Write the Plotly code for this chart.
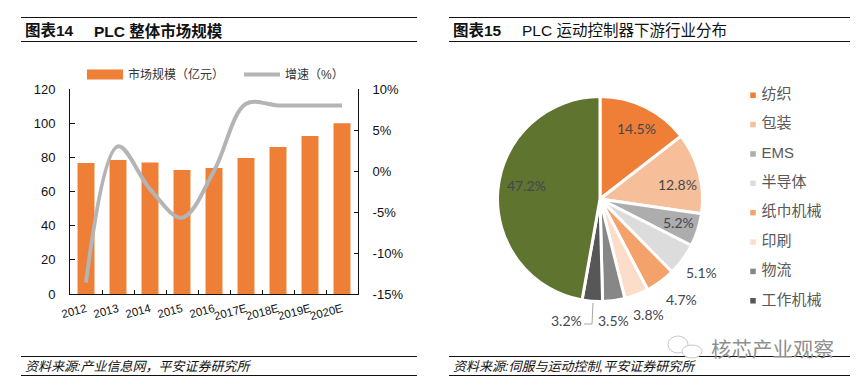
import plotly.graph_objects as go

W, H = 862, 387
CJK = "Liberation Sans, Noto Sans CJK SC, sans-serif"
PIE_FONT = "Lato, Noto Sans CJK SC, sans-serif"

# Bar + line chart data
years = ["2012", "2013", "2014", "2015", "2016", "2017E", "2018E", "2019E", "2020E"]
market_size = [76.7, 78.5, 77, 72.6, 73.8, 79.6, 86, 92.5, 100]
growth = [-13.6, 3.0, -2.2, -5.7, 0.0, 8.2, 8.0, 8.0, 8.0]
growth_ticks = [-15, -10, -5, 0, 5, 10]
growth_labels = ["-15%", "-10%", "-5%", "0%", "5%", "10%"]

# Pie chart data
industries = ["纺织", "包装", "EMS", "半导体", "纸巾机械", "印刷", "物流", "工作机械", "其他"]
shares = [14.5, 12.8, 5.2, 5.1, 4.7, 3.8, 3.5, 3.2, 47.2]
pie_colors = ["#EF7E37", "#F7BF99", "#ADADAD", "#DCDCDC", "#F4A26C", "#FBDDC9", "#878787", "#575757", "#5F742F"]
label_xy = [(636, 128), (677, 184), (678, 222), (701, 272), (681, 299), (648, 314), (613, 320), (566, 320), (526, 185)]

ORANGE = "#EF7E37"
GREY = "#B4B4B4"


def px(x):
    return x / W


def py(y):
    return 1 - y / H


fig = go.Figure()
fig.add_trace(go.Bar(x=years, y=market_size, marker=dict(color=ORANGE, line_width=0), width=0.53,
                     showlegend=False, yaxis="y", xaxis="x"))
fig.add_trace(go.Scatter(x=[None], y=[None], mode="lines", name="市场规模（亿元）",
                         line=dict(color=ORANGE, width=11), legend="legend", xaxis="x", yaxis="y"))
fig.add_trace(go.Scatter(x=years, y=growth, mode="lines", name="增速（%）",
                         line=dict(color=GREY, width=4, shape="spline", smoothing=1.0),
                         xaxis="x", yaxis="y2", legend="legend"))

fig.add_trace(go.Pie(labels=industries, values=shares, sort=False, direction="clockwise", rotation=0,
                     marker=dict(colors=pie_colors, line=dict(color="white", width=3)),
                     textinfo="none", showlegend=False, automargin=False, hoverinfo="label+percent",
                     domain=dict(x=[px(497.5), px(702.5)], y=[py(301.5), py(96.5)])))

# Pie key, drawn as a small scatter on its own hidden axes
fig.add_trace(go.Scatter(x=[0] * 8, y=industries[:8], mode="markers+text", xaxis="x2", yaxis="y3", showlegend=False,
                         text=["\u00a0" + name for name in industries[:8]], textposition="middle right", cliponaxis=False,
                         textfont=dict(family=CJK, size=15, color="#595959"),
                         marker=dict(symbol="square", size=5.5, color=pie_colors[:8])))

fig.update_layout(
    template="none",
    width=W, height=H, margin=dict(l=0, r=0, t=0, b=0), paper_bgcolor="white", plot_bgcolor="white",
    font=dict(family=CJK, color="#111111"),
    xaxis=dict(domain=[px(70), px(358)], type="category", ticks="inside", ticklen=4, tickwidth=1, tickcolor="#111",
               tickson="boundaries", showline=True, linecolor="#111", linewidth=1, tickangle=-15,
               tickfont=dict(size=11.5), showgrid=False, anchor="y", ticklabelstandoff=3),
    yaxis=dict(domain=[py(294), py(89)], range=[0, 120], dtick=20, ticks="inside", ticklen=5, tickcolor="#111",
               showline=True, linecolor="#111", linewidth=1, showgrid=False, zeroline=False,
               tickfont=dict(size=13), anchor="x", ticklabelstandoff=11),
    yaxis2=dict(domain=[py(294), py(89)], range=[-15, 10], tickmode="array", tickvals=growth_ticks, ticktext=growth_labels,
                overlaying="y", side="right", ticks="inside", ticklen=4,
                tickcolor="#111", showline=True, linecolor="#111", linewidth=1, showgrid=False, zeroline=False,
                tickfont=dict(size=13), anchor="x", ticklabelstandoff=11),
    xaxis2=dict(domain=[px(753), px(860)], range=[0, 1], visible=False, anchor="y3"),
    yaxis3=dict(domain=[py(316), py(80)], type="category", autorange="reversed", visible=False, anchor="x2"),
    legend=dict(orientation="h", x=px(82), y=py(60), xanchor="left", yanchor="top", font=dict(size=12, color="#333"),
                itemwidth=36, entrywidth=106, entrywidthmode="pixels", bgcolor="rgba(0,0,0,0)"),
)

# Panel rules
rules = [(21, 417, 17.5), (21, 417, 41.5), (21, 417, 356.5), (21, 417, 375.5),
         (449, 850, 17.5), (449, 850, 41.5), (449, 850, 356.5), (449, 850, 375.5)]
shapes = [dict(type="line", xref="paper", yref="paper", x0=px(a), x1=px(b), y0=py(c), y1=py(c),
               line=dict(color="#111", width=1)) for a, b, c in rules]
# Leader line for the 3.2% label
shapes.append(dict(type="path", xref="paper", yref="paper",
                   path=f"M{px(593)},{py(303)} L{px(592)},{py(324)} L{px(584)},{py(324)}",
                   line=dict(color="#A6A6A6", width=1)))
# Watermark icon
for x0, y0, x1, y1 in [(668, 336, 688, 353), (682, 345, 702, 358)]:
    shapes.append(dict(type="circle", xref="paper", yref="paper", x0=px(x0), x1=px(x1), y0=py(y0), y1=py(y1),
                       line=dict(color="#C8C8C8", width=1), fillcolor="white"))
fig.update_layout(shapes=shapes)

texts = [
    (23, 31, "<b>图表14</b>", 15.5, "#111", "normal"),
    (92, 31, "<b>PLC 整体市场规模</b>", 15.5, "#111", "normal"),
    (451, 31, "<b>图表15</b>", 15.5, "#111", "normal"),
    (520, 31, "PLC 运动控制器下游行业分布", 15.5, "#111", "normal"),
    (23, 366, "资料来源:产业信息网，平安证券研究所", 13, "#111", "italic"),
    (451, 366, "资料来源:伺服与运动控制,平安证券研究所", 13, "#111", "italic"),
    (709, 349, "核芯产业观察", 20.5, "#8F8F8F", "normal"),
]
ann = [dict(x=px(x), y=py(y), xref="paper", yref="paper", text=t, showarrow=False, xanchor="left", yanchor="middle",
            font=dict(size=s, color=c, style=st, family=CJK)) for x, y, t, s, c, st in texts]
for (x, y), v in zip(label_xy, shares):
    ann.append(dict(x=px(x), y=py(y), xref="paper", yref="paper", text=f"{v:.1f}%", showarrow=False,
                    xanchor="center", yanchor="middle", font=dict(size=14, color="#44474F", family=PIE_FONT)))
fig.update_layout(annotations=ann)

fig.write_html("out.html", config=dict(displayModeBar=False),
               post_script="document.body.style.margin='0';document.body.style.overflow='hidden';")
